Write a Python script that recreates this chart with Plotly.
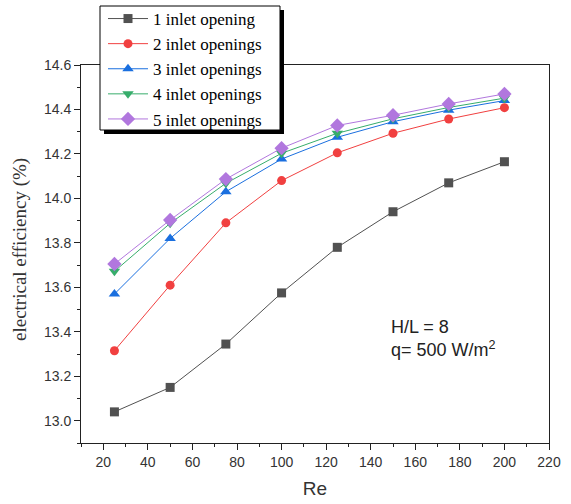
import plotly.graph_objects as go

# Reynolds numbers on the x axis
re_values = [25, 50, 75, 100, 125, 150, 175, 200]

# Electrical efficiency (%) for each number of inlet openings
eff_1 = [13.04, 13.15, 13.345, 13.575, 13.78, 13.94, 14.07, 14.165]
eff_2 = [13.315, 13.61, 13.89, 14.08, 14.205, 14.293, 14.357, 14.408]
eff_3 = [13.57, 13.82, 14.03, 14.177, 14.275, 14.345, 14.397, 14.44]
eff_4 = [13.672, 13.888, 14.068, 14.203, 14.293, 14.358, 14.409, 14.451]
eff_5 = [13.705, 13.903, 14.087, 14.226, 14.328, 14.374, 14.425, 14.47]

series_names = ["1 inlet opening", "2 inlet openings", "3 inlet openings",
                "4 inlet openings", "5 inlet openings"]
series_values = [eff_1, eff_2, eff_3, eff_4, eff_5]
colors = ["#515151", "#F14040", "#1A6FDF", "#37AD6B", "#B177DE"]
symbols = ["square", "circle", "triangle-up", "triangle-down", "diamond"]
sizes = [9, 9, 10, 10, 11]

fig = go.Figure()
for name, vals, col, sym, sz in zip(series_names, series_values, colors, symbols, sizes):
    fig.add_trace(go.Scatter(
        x=re_values, y=vals, name=name, mode="lines+markers",
        line=dict(color=col, width=1),
        marker=dict(symbol=sym, size=sz, color=col, line=dict(width=0)),
    ))

W, H = 571, 504
L, R, T, B = 81, 22, 65, 61
pw, ph = W - L - R, H - T - B


def pxx(px):
    return (px - L) / pw


def pxy(py):
    return (H - B - py) / ph


# legend frame corners (pixels) and drop-shadow offset
box_x0, box_y0, box_x1, box_y1 = 100, 6, 280, 130
shadow = 4

tick_font = dict(family="Liberation Sans, Arial", size=14, color="#333333")

fig.update_layout(
    width=W, height=H,
    margin=dict(l=L, r=R, t=T, b=B, autoexpand=False),
    paper_bgcolor="white", plot_bgcolor="white",
    showlegend=True,
    legend=dict(
        xref="container", yref="container",
        x=(box_x0 + 3) / W, y=1 - 1 / H, xanchor="left", yanchor="top",
        bgcolor="rgba(0,0,0,0)", borderwidth=0,
        font=dict(family="Liberation Serif, Times New Roman", size=17, color="black"),
        tracegroupgap=0, itemwidth=40,
    ),
    annotations=[
        dict(x=148, y=13.37, xref="x", yref="y", xanchor="left", yanchor="middle",
             text="H/L = 8<br>q= 500 W/m<sup>2</sup>", align="left", showarrow=False,
             font=dict(family="Liberation Sans, Arial", size=18, color="#222222")),
        dict(x=pxx(20), y=pxy(250), xref="paper", yref="paper",
             xanchor="center", yanchor="middle", textangle=-90,
             text="electrical efficiency (%)", showarrow=False,
             font=dict(family="Liberation Serif, Times New Roman", size=19, color="#333333")),
    ],
    xaxis=dict(
        range=[10, 220], tickvals=list(range(20, 221, 20)),
        ticks="outside", ticklen=6, tickwidth=1, tickcolor="#222",
        minor=dict(ticks="outside", ticklen=3, tickwidth=1, tickcolor="#222", dtick=10, tick0=10),
        showline=True, linecolor="#222", linewidth=1, mirror=True,
        showgrid=False, zeroline=False, tickfont=tick_font,
        title=dict(text="Re", font=dict(family="Liberation Sans, Arial", size=19, color="#333333"),
                   standoff=12),
    ),
    yaxis=dict(
        range=[12.9, 14.6], tickvals=[13.0, 13.2, 13.4, 13.6, 13.8, 14.0, 14.2, 14.4, 14.6],
        ticktext=["13.0", "13.2", "13.4", "13.6", "13.8", "14.0", "14.2", "14.4", "14.6"],
        ticks="outside", ticklen=6, tickwidth=1, tickcolor="#222",
        minor=dict(ticks="outside", ticklen=3, tickwidth=1, tickcolor="#222", dtick=0.1, tick0=12.9),
        showline=True, linecolor="#222", linewidth=1, mirror=True,
        showgrid=False, zeroline=False, tickfont=tick_font,
    ),
)

# legend frame with a drop shadow, positioned in pixel terms on the page
fig.add_shape(type="rect", xref="paper", yref="paper",
              x0=pxx(box_x0 + shadow), x1=pxx(box_x1 + shadow),
              y0=pxy(box_y1 + shadow), y1=pxy(box_y0 + shadow),
              fillcolor="black", line=dict(width=0), layer="above")
fig.add_shape(type="rect", xref="paper", yref="paper",
              x0=pxx(box_x0), x1=pxx(box_x1), y0=pxy(box_y1), y1=pxy(box_y0),
              fillcolor="white", line=dict(color="black", width=1), layer="above")

fig.write_html("out.html")
